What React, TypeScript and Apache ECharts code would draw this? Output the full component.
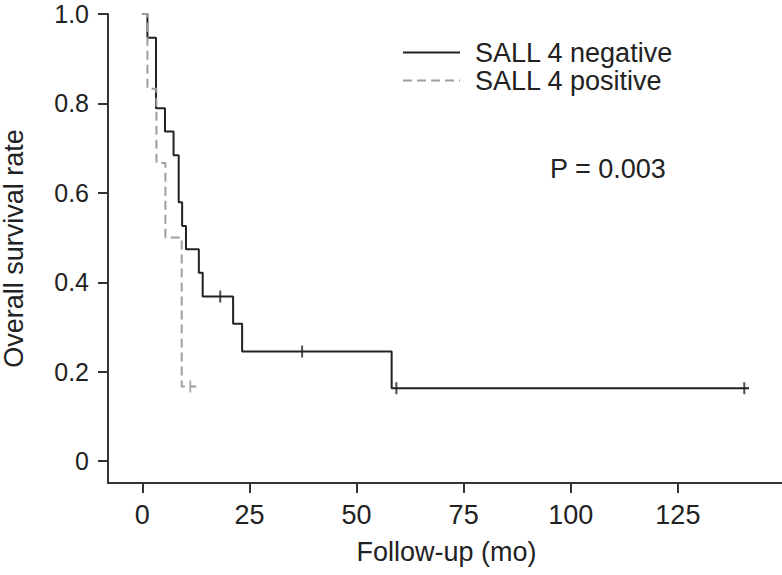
import React, { useEffect, useRef } from "react";
import * as echarts from "echarts";

// Kaplan-Meier step points (time in months, survival rate)
const negTimes = [0, 1.2, 3.2, 5.3, 7.3, 8.5, 9.3, 10.2, 13.2, 14.1, 21.2, 23.3, 58.2, 141.6];
const negSurv = [1.0, 0.947, 0.789, 0.737, 0.684, 0.579, 0.526, 0.474, 0.421, 0.368, 0.307, 0.245, 0.163, 0.163];
const posTimes = [0, 1.2, 3.3, 5.4, 9.2, 12.6];
const posSurv = [1.0, 0.833, 0.667, 0.5, 0.167, 0.167];
// censored observations
const negCensorTimes = [18.2, 37.3, 59.3, 140.5];
const negCensorSurv = [0.368, 0.245, 0.163, 0.163];
const posCensorTimes = [11.2];
const posCensorSurv = [0.167];

const xTicks = [0, 25, 50, 75, 100, 125];
const yTicks = [0, 0.2, 0.4, 0.6, 0.8, 1.0];
const seriesNames = ["SALL 4 negative", "SALL 4 positive"];
const xAxisName = "Follow-up (mo)";
const yAxisName = "Overall survival rate";
const pValueText = "P = 0.003";

const FONT = "'Liberation Sans', Arial, Helvetica, sans-serif";
const TEXT = "#222222";
const AXIS = "#333333";
const BLACK = "#222222";
const GRAY = "#9e9e9e";

const zip = (xs: number[], ys: number[]) => xs.map((x, i) => [x, ys[i]]);

export default function App() {
  const ref = useRef<HTMLDivElement>(null);
  useEffect(() => {
    document.body.style.margin = "0";
    if (!ref.current) return;
    const chart = echarts.init(ref.current, null, { renderer: "svg" });
    chart.setOption({
      animation: false,
      backgroundColor: "#ffffff",
      textStyle: { fontFamily: FONT },
      grid: {
        left: 108,
        top: 14,
        width: 677,
        height: 469,
        containLabel: false,
        outerBoundsMode: "none",
      },
      legend: {
        data: seriesNames,
        orient: "vertical",
        left: 402,
        top: 39,
        padding: 0,
        itemWidth: 57,
        itemHeight: 14,
        itemGap: 1,
        itemStyle: { opacity: 0 },
        textStyle: { fontSize: 27, color: TEXT, fontFamily: FONT, padding: [0, 0, 0, 10] },
      },
      xAxis: {
        type: "value",
        min: -8,
        max: 150,
        name: xAxisName,
        nameLocation: "middle",
        nameGap: 55,
        nameTextStyle: { fontSize: 27, color: TEXT, fontFamily: FONT },
        axisLine: { show: true, onZero: false, lineStyle: { color: AXIS, width: 2 } },
        axisTick: { show: true, customValues: xTicks, length: 10, lineStyle: { color: AXIS, width: 2 } },
        axisLabel: { customValues: xTicks, fontSize: 27, color: TEXT, fontFamily: FONT, margin: 18 },
        splitLine: { show: false },
      },
      yAxis: {
        type: "value",
        min: -0.049,
        max: 1.0,
        name: yAxisName,
        nameLocation: "middle",
        nameRotate: 90,
        nameGap: 81,
        nameTextStyle: { fontSize: 27, color: TEXT, fontFamily: FONT },
        axisLine: { show: true, onZero: false, lineStyle: { color: AXIS, width: 2 } },
        axisTick: { show: true, customValues: yTicks, length: 10, lineStyle: { color: AXIS, width: 2 } },
        axisLabel: {
          customValues: yTicks,
          fontSize: 25,
          lineHeight: 20,
          color: TEXT,
          fontFamily: FONT,
          margin: 19,
          formatter: (v: number) => (v === 0 ? "0" : v.toFixed(1)),
        },
        splitLine: { show: false },
      },
      series: [
        {
          name: seriesNames[0],
          type: "line",
          step: "end",
          data: zip(negTimes, negSurv),
          symbol: "none",
          lineStyle: { color: BLACK, width: 2 },
          itemStyle: { color: BLACK },
          z: 2,
        },
        {
          name: seriesNames[1],
          type: "line",
          step: "end",
          data: zip(posTimes, posSurv),
          symbol: "none",
          lineStyle: { color: GRAY, width: 2, type: [9, 5] },
          itemStyle: { color: GRAY },
          z: 3,
        },
        {
          name: "neg-censor",
          type: "scatter",
          data: zip(negCensorTimes, negCensorSurv),
          symbol: "rect",
          symbolSize: [2, 12],
          itemStyle: { color: BLACK },
          z: 4,
        },
        {
          name: "pos-censor",
          type: "scatter",
          data: zip(posCensorTimes, posCensorSurv),
          symbol: "rect",
          symbolSize: [2, 12],
          itemStyle: { color: GRAY },
          z: 4,
        },
      ],
      graphic: [
        {
          type: "text",
          x: 550,
          y: 169,
          style: {
            text: pValueText,
            fontSize: 27,
            fontFamily: FONT,
            fill: TEXT,
            textVerticalAlign: "middle",
          },
        },
      ],
    });
    return () => chart.dispose();
  }, []);
  return <div ref={ref} style={{ width: 782, height: 575 }} />;
}
